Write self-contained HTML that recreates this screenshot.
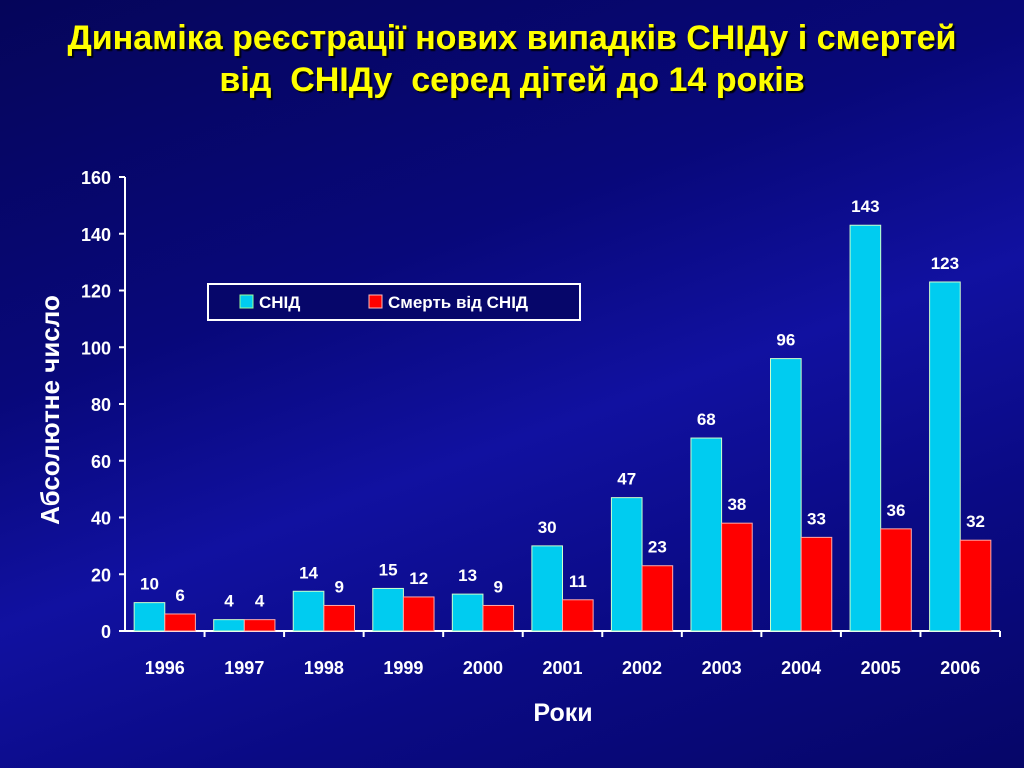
<!DOCTYPE html>
<html><head><meta charset="utf-8"><style>
body{margin:0;width:1024px;height:768px;overflow:hidden;font-family:"Liberation Sans",sans-serif;}
#bg{position:absolute;left:0;top:0;width:1024px;height:768px;background:linear-gradient(160deg,#05055a 0%,#08087a 35%,#1111a0 55%,#0a0a84 75%,#060668 100%);}
</style></head><body>
<div id="bg"></div>
<svg id="c" width="1024" height="768" style="position:absolute;left:0;top:0">
<defs><filter id="sh"><feDropShadow dx="2" dy="2" stdDeviation="0.5" flood-color="#000" flood-opacity="0.9"/></filter></defs>
<text x="512" y="49" text-anchor="middle" font-size="34" font-weight="bold" fill="#ffff00" filter="url(#sh)">Динаміка реєстрації нових випадків СНІДу і смертей</text>
<text x="512" y="91" text-anchor="middle" font-size="34" font-weight="bold" fill="#ffff00" filter="url(#sh)" xml:space="preserve">від  СНІДу  серед дітей до 14 років</text>
<text transform="translate(59,410) rotate(-90)" text-anchor="middle" font-size="26" font-weight="bold" fill="#fff">Абсолютне число</text>
<text x="563" y="721" text-anchor="middle" font-size="25" font-weight="bold" fill="#fff">Роки</text>
<g id="plot"></g>
<g>
<rect x="208" y="284" width="372" height="36" fill="#06066a" stroke="#fff" stroke-width="2"/>
<rect x="240" y="295" width="13" height="13" fill="#00ccf0" stroke="#9f9" stroke-width="1"/>
<text x="259" y="308" font-size="17" font-weight="bold" fill="#fff">СНІД</text>
<rect x="369" y="295" width="13" height="13" fill="#ff0000" stroke="#fbb" stroke-width="1"/>
<text x="388" y="308" font-size="17" font-weight="bold" fill="#fff">Смерть від СНІД</text>
</g>
</svg>
<script>
const categories=["1996","1997","1998","1999","2000","2001","2002","2003","2004","2005","2006"];
const snid=[10,4,14,15,13,30,47,68,96,143,123];
const deaths=[6,4,9,12,9,11,23,38,33,36,32];
const yTicks=[0,20,40,60,80,100,120,140,160];
const NS="http://www.w3.org/2000/svg";
const g=document.getElementById('plot');
const x0=125,x1=1000,y0=631,yTop=177,yMax=160;
const bw=(x1-x0)/categories.length;
const y=v=>y0-(v/yMax)*(y0-yTop);
function el(t,a){const e=document.createElementNS(NS,t);for(const k in a)e.setAttribute(k,a[k]);g.appendChild(e);return e;}
let e=el('line',{x1:x0,y1:yTop,x2:x0,y2:y0,stroke:'#fff','stroke-width':2});


e=el('line',{x1:x0,y1:y0,x2:x1,y2:y0,stroke:'#fff','stroke-width':2});


yTicks.forEach(v=>{
 let t=el('line',{x1:x0-6,y1:y(v),x2:x0,y2:y(v),stroke:'#fff','stroke-width':2});
 
 
 let l=el('text',{x:x0-14,y:y(v)+7,'text-anchor':'end','font-size':18,'font-weight':'bold',fill:'#fff'});
 l.textContent=v;
 
 
});
categories.forEach((c,i)=>{
 const cx=x0+bw*(i+0.5);
 let t=el('line',{x1:x0+bw*(i+1),y1:y0,x2:x0+bw*(i+1),y2:y0+6,stroke:'#fff','stroke-width':2});
 
 
 let l=el('text',{x:cx,y:674,'text-anchor':'middle','font-size':18,'font-weight':'bold',fill:'#fff'});
 l.textContent=c;
 
 
 const w=bw*0.385;
 let b=el('rect',{x:cx-w,y:y(snid[i]),width:w,height:y0-y(snid[i]),fill:'#00ccf0',stroke:'#ccffcc','stroke-width':1});
 
 
 let r=el('rect',{x:cx,y:y(deaths[i]),width:w,height:y0-y(deaths[i]),fill:'#ff0000',stroke:'#ffaaaa','stroke-width':1});
 
 
 let a=el('text',{x:cx-w/2,y:y(snid[i])-13,'text-anchor':'middle','font-size':17,'font-weight':'bold',fill:'#fff'});
 a.textContent=snid[i];
 
 
 let d=el('text',{x:cx+w/2,y:y(deaths[i])-13,'text-anchor':'middle','font-size':17,'font-weight':'bold',fill:'#fff'});
 d.textContent=deaths[i];
 
 
});
</script>
</body></html>
